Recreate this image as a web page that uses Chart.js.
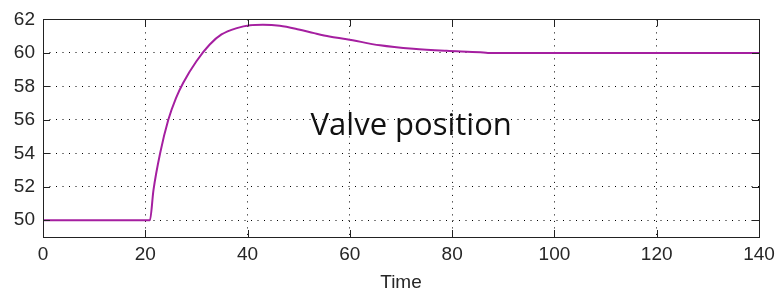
<!DOCTYPE html>
<html>
<head>
<meta charset="utf-8">
<script src="https://cdn.jsdelivr.net/npm/chart.js@4.4.1/dist/chart.umd.min.js"></script>
<style>
    html, body { margin: 0; padding: 0; background: #fff; }
    #wrap { width: 781px; height: 296px; position: relative; }
</style>
</head>
<body>
<div id="wrap"><canvas id="valveChart"></canvas></div>
<script>
    // --- data ---
    const timePts = [0, 20.9, 21.6, 22.9, 24.5, 26.0, 27.4, 30.0, 32.6, 34.9, 37.9, 40.5, 43.0, 46.3, 50.0, 53.0, 56.0, 59.4, 65.9, 72.4, 78.9, 85.5, 87.0, 140];
    const valvePts = [50, 50, 51.8, 54.0, 56.0, 57.3, 58.2, 59.5, 60.5, 61.1, 61.48, 61.65, 61.68, 61.62, 61.4, 61.18, 60.98, 60.82, 60.45, 60.24, 60.12, 60.04, 60.0, 60];
    const xTicks = [0, 20, 40, 60, 80, 100, 120, 140];
    const yTicks = [50, 52, 54, 56, 58, 60, 62];
    const noteText = 'Valve position';
    const notePos = { x: 72, y: 55.1 };

    const tickFont = { family: 'Liberation Sans, Arial, sans-serif', size: 19 };
    const inkColor = '#262626';

    // rahmen + nach innen zeigende Striche (matlab-stil)
    const boxPlugin = {
        id: 'boxTicks',
        afterDatasetsDraw(chart) {
            const { ctx, chartArea: a, scales } = chart;
            const len = 7;
            ctx.save();
            ctx.strokeStyle = '#222';
            ctx.lineWidth = 1;
            ctx.beginPath();
            xTicks.forEach(v => {
                const px = Math.round(scales.x.getPixelForValue(v)) + 0.5;
                ctx.moveTo(px, a.bottom); ctx.lineTo(px, a.bottom - len);
                ctx.moveTo(px, a.top); ctx.lineTo(px, a.top + len);
            });
            yTicks.forEach(v => {
                const py = Math.round(scales.y.getPixelForValue(v)) + 0.5;
                ctx.moveTo(a.left, py); ctx.lineTo(a.left + len, py);
                ctx.moveTo(a.right, py); ctx.lineTo(a.right - len, py);
            });
            ctx.stroke();
            ctx.strokeRect(Math.round(a.left) + 0.5, Math.round(a.top) + 0.5,
                Math.round(a.right - a.left), Math.round(a.bottom - a.top));

            // Beschriftung im Plot
            ctx.fillStyle = '#111';
            ctx.font = '31px "Open Sans", "Noto Sans", sans-serif';
            ctx.textAlign = 'center';
            ctx.textBaseline = 'alphabetic';
            ctx.fillText(noteText, scales.x.getPixelForValue(notePos.x), scales.y.getPixelForValue(notePos.y));
            ctx.restore();
        }
    };

    new Chart(document.getElementById('valveChart'), {
        type: 'line',
        data: {
            datasets: [{
                label: noteText,
                data: timePts.map((t, i) => ({ x: t, y: valvePts[i] })),
                borderColor: '#a51fa0',
                borderWidth: 2,
                pointRadius: 0,
                cubicInterpolationMode: 'monotone',
                fill: false
            }]
        },
        options: {
            responsive: true,
            maintainAspectRatio: false,
            animation: false,
            layout: { padding: { top: 18, right: 22, bottom: 0, left: 0 } },
            plugins: { legend: { display: false }, tooltip: { enabled: false } },
            scales: {
                x: {
                    type: 'linear',
                    min: 0,
                    max: 140,
                    afterBuildTicks: s => { s.ticks = xTicks.map(v => ({ value: v })); },
                    afterFit: s => { s.height = 59; },
                    ticks: { font: tickFont, color: inkColor, padding: 6, maxRotation: 0 },
                    grid: { color: '#000', drawTicks: false },
                    border: { display: false, dash: [1, 5.5] },
                    title: { display: true, text: 'Time', font: tickFont, color: inkColor, padding: { top: 0, bottom: 2 } }
                },
                y: {
                    min: 49,
                    max: 62,
                    afterBuildTicks: s => { s.ticks = yTicks.map(v => ({ value: v })); },
                    afterFit: s => { s.width = 43; },
                    ticks: { font: tickFont, color: inkColor, padding: 8 },
                    grid: { color: '#000', drawTicks: false },
                    border: { display: false, dash: [1, 5.5] }
                }
            }
        },
        plugins: [boxPlugin]
    });
</script>
</body>
</html>
